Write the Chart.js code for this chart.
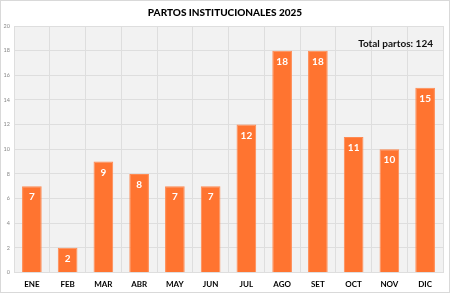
<!DOCTYPE html>
<html><head><meta charset="utf-8">
<script src="https://cdn.jsdelivr.net/npm/chart.js@4.4.1/dist/chart.umd.min.js"></script>
<style>html,body{margin:0;padding:0;background:#fff;}#wrap{width:450px;height:293px;position:relative;}</style>
</head><body><div id="wrap"><canvas id="c" width="450" height="293"></canvas></div>
<script>
const categories = ["ENE","FEB","MAR","ABR","MAY","JUN","JUL","AGO","SET","OCT","NOV","DIC"];
const values = [7,2,9,8,7,7,12,18,18,11,10,15];
const titleText = "PARTOS INSTITUCIONALES 2025";
const totalText = "Total partos: 124";
const yTicks = [0,2,4,6,8,10,12,14,16,18,20];

const FONT = "Lato, 'Open Sans', sans-serif";

const bgPlugin = {
  id: 'bg',
  beforeDraw(chart) {
    const {ctx, chartArea: a} = chart;
    ctx.save();
    ctx.fillStyle = '#ffffff';
    ctx.fillRect(0,0,chart.width,chart.height);
    ctx.fillStyle = '#f2f2f2';
    ctx.fillRect(a.left, a.top, a.right-a.left, a.bottom-a.top);
    ctx.restore();
  },
  afterDraw(chart) {
    const {ctx, chartArea: a} = chart;
    ctx.save();
    ctx.strokeStyle = '#d9d9d9';
    ctx.lineWidth = 1;
    ctx.strokeRect(0.5,0.5,chart.width-1,chart.height-1);
    ctx.fillStyle = '#000';
    ctx.textAlign = 'center';
    ctx.textBaseline = 'middle';
    ctx.font = "900 10px " + FONT;
    ctx.fillText(titleText, 225, 12.5);
    ctx.textAlign = 'right';
    ctx.font = "bold 10px " + FONT;
    ctx.fillStyle = '#111';
    ctx.fillText(totalText, 433, 43.5);
    // data labels
    const meta = chart.getDatasetMeta(0);
    ctx.fillStyle = '#fff';
    ctx.textAlign = 'center';
    ctx.font = "bold 10px " + FONT;
    meta.data.forEach((bar, i) => {
      ctx.fillText(String(values[i]), bar.x, bar.y + 11);
    });
    ctx.restore();
  }
};

new Chart(document.getElementById('c'), {
  type: 'bar',
  data: {
    labels: categories,
    datasets: [{
      data: values,
      backgroundColor: '#ff7430',
      borderColor: '#ff8a52',
      borderWidth: 1,
      barPercentage: 0.55,
      categoryPercentage: 1
    }]
  },
  options: {
    responsive: false,
    animation: false,
    layout: { padding: { top: 26, right: 7, left: 0, bottom: 0 } },
    plugins: { legend: { display: false }, title: { display: false }, tooltip: { enabled: false } },
    scales: {
      x: {
        grid: { color: '#dedede', drawTicks: false, offset: true },
        border: { display: false },
        ticks: { color: '#000', font: { family: FONT, size: 8, weight: 'bold' }, padding: 7, maxRotation: 0 },
        afterFit(s) { s.height = 20.5; }
      },
      y: {
        min: 0, max: 20,
        afterBuildTicks(s) { s.ticks = yTicks.map(v => ({value: v})); },
        grid: { color: '#dedede', drawTicks: false },
        border: { display: false },
        ticks: { color: '#888', font: { family: FONT, size: 5.5 }, padding: 4 },
        afterFit(s) { s.width = 14; }
      }
    }
  },
  plugins: [bgPlugin]
});
</script></body></html>
